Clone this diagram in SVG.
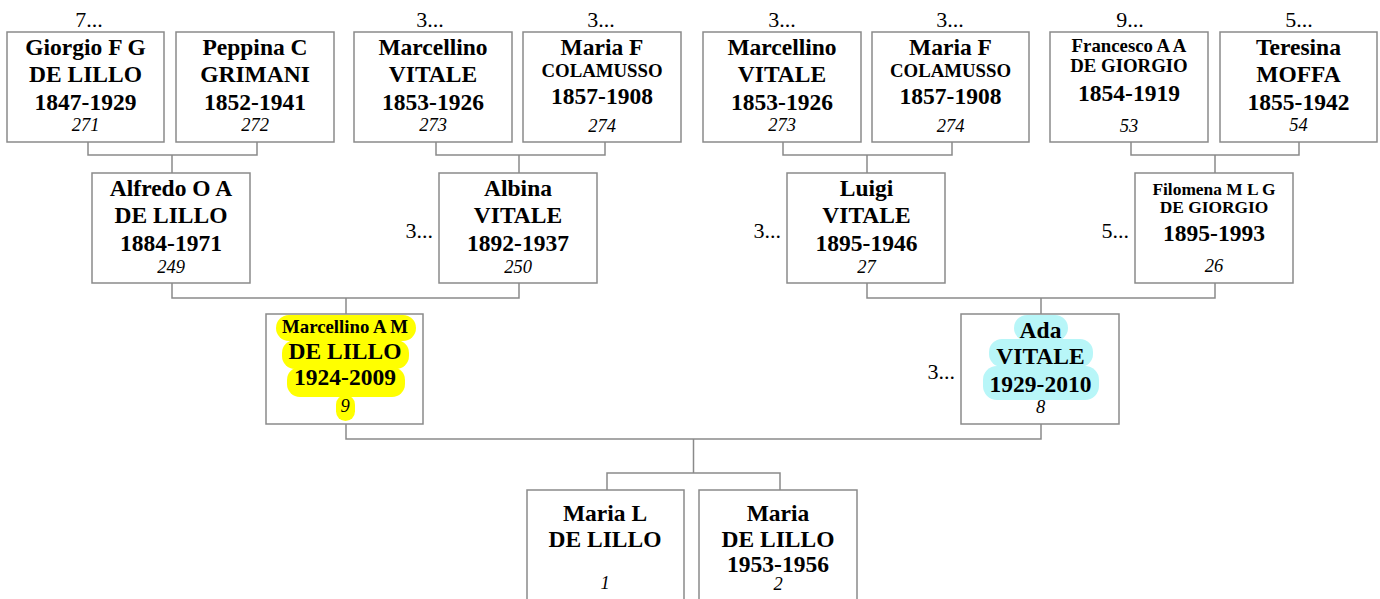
<svg xmlns="http://www.w3.org/2000/svg" width="1380" height="599" viewBox="0 0 1380 599">
<style>
.box{fill:#fff;stroke:#8a8a8a;stroke-width:1.5}
.c{fill:none;stroke:#8a8a8a;stroke-width:1.5}
text{font-family:"Liberation Serif","Times New Roman",serif;fill:#000;text-anchor:middle}
.b{font-weight:bold;font-size:23.5px}
.s{font-weight:bold;font-size:18.8px}
.t{font-weight:bold;font-size:17.4px}
.n{font-style:italic;font-size:18.5px}
.m{font-size:22px}
.e{font-size:22px;text-anchor:end}
.hy{fill:#ffff00}
.hc{fill:#b8f6f8}
</style>
<rect width="1380" height="599" fill="#fff"/>
<g id="connectors">
<path class="c" d="M88 142V155H257V142M172 155V173"/>
<path class="c" d="M436 142V155H605V142M519 155V173"/>
<path class="c" d="M783 142V155H952V142M867 155V173"/>
<path class="c" d="M1131 142V155H1299V142M1215 155V173"/>
<path class="c" d="M172 283V298H519V283M346 298V314"/>
<path class="c" d="M867 283V298H1215V283M1041 298V314"/>
<path class="c" d="M346 424V439H1041V424M693.5 439V473"/>
<path class="c" d="M607 490V473H780V490"/>
</g>
<g id="n271">
<text class="m" x="89" y="27">7...</text>
<rect class="box" x="7" y="32" width="157" height="110"/>
<text class="b" x="85.5" y="55">Giorgio F G</text>
<text class="b" x="85.5" y="82">DE LILLO</text>
<text class="b" x="85.5" y="109.5">1847-1929</text>
<text class="n" x="85.5" y="131">271</text>
</g>
<g id="n272">
<rect class="box" x="176" y="32" width="158" height="110"/>
<text class="b" x="255" y="55">Peppina C</text>
<text class="b" x="255" y="82">GRIMANI</text>
<text class="b" x="255" y="109.5">1852-1941</text>
<text class="n" x="255" y="131">272</text>
</g>
<g id="n273a">
<text class="m" x="430" y="27">3...</text>
<rect class="box" x="354" y="32" width="158" height="110"/>
<text class="b" x="433" y="55">Marcellino</text>
<text class="b" x="433" y="82">VITALE</text>
<text class="b" x="433" y="109.5">1853-1926</text>
<text class="n" x="433" y="131">273</text>
</g>
<g id="n274a">
<text class="m" x="601" y="27">3...</text>
<rect class="box" x="523" y="32" width="158" height="110"/>
<text class="b" x="602" y="55">Maria F</text>
<text class="s" x="602" y="77.3">COLAMUSSO</text>
<text class="b" x="602" y="104">1857-1908</text>
<text class="n" x="602" y="131.5">274</text>
</g>
<g id="n273b">
<text class="m" x="782" y="27">3...</text>
<rect class="box" x="703" y="32" width="158" height="110"/>
<text class="b" x="782" y="55">Marcellino</text>
<text class="b" x="782" y="82">VITALE</text>
<text class="b" x="782" y="109.5">1853-1926</text>
<text class="n" x="782" y="131">273</text>
</g>
<g id="n274b">
<text class="m" x="950" y="27">3...</text>
<rect class="box" x="872" y="32" width="157" height="110"/>
<text class="b" x="950.5" y="55">Maria F</text>
<text class="s" x="950.5" y="77.3">COLAMUSSO</text>
<text class="b" x="950.5" y="104">1857-1908</text>
<text class="n" x="950.5" y="131.5">274</text>
</g>
<g id="n53">
<text class="m" x="1130" y="27">9...</text>
<rect class="box" x="1050" y="32" width="158" height="110"/>
<text class="s" x="1129" y="52.3">Francesco A A</text>
<text class="s" x="1129" y="72.3">DE GIORGIO</text>
<text class="b" x="1129" y="100.7">1854-1919</text>
<text class="n" x="1129" y="131.5">53</text>
</g>
<g id="n54">
<text class="m" x="1299" y="27">5...</text>
<rect class="box" x="1220" y="32" width="157" height="110"/>
<text class="b" x="1298.5" y="55">Teresina</text>
<text class="b" x="1298.5" y="82.3">MOFFA</text>
<text class="b" x="1298.5" y="110">1855-1942</text>
<text class="n" x="1298.5" y="131">54</text>
</g>
<g id="n249">
<rect class="box" x="92" y="173" width="158" height="110"/>
<text class="b" x="171" y="196">Alfredo O A</text>
<text class="b" x="171" y="223.3">DE LILLO</text>
<text class="b" x="171" y="251">1884-1971</text>
<text class="n" x="171" y="273.3">249</text>
</g>
<g id="n250">
<text class="e" x="433" y="237.5">3...</text>
<rect class="box" x="439" y="173" width="158" height="110"/>
<text class="b" x="518" y="196">Albina</text>
<text class="b" x="518" y="223.3">VITALE</text>
<text class="b" x="518" y="251">1892-1937</text>
<text class="n" x="518" y="273.3">250</text>
</g>
<g id="n27">
<text class="e" x="781" y="237.5">3...</text>
<rect class="box" x="787" y="173" width="158" height="110"/>
<text class="b" x="866.5" y="196">Luigi</text>
<text class="b" x="866.5" y="223.3">VITALE</text>
<text class="b" x="866.5" y="251">1895-1946</text>
<text class="n" x="866.5" y="273.3">27</text>
</g>
<g id="n26">
<text class="e" x="1129" y="237.5">5...</text>
<rect class="box" x="1135" y="173" width="158" height="110"/>
<text class="t" x="1214" y="195">Filomena M L G</text>
<text class="t" x="1214" y="213">DE GIORGIO</text>
<text class="b" x="1214" y="240.7">1895-1993</text>
<text class="n" x="1214" y="271.7">26</text>
</g>
<g id="n9">
<rect class="box" x="266" y="314" width="157" height="110"/>
<rect class="hy" x="276" y="315" width="140" height="26" rx="13"/>
<rect class="hy" x="282" y="340" width="127" height="29" rx="13"/>
<rect class="hy" x="287" y="367" width="118" height="30" rx="13"/>
<rect class="hy" x="336" y="395" width="19" height="26" rx="9.5"/>
<text class="s" x="345" y="333.3">Marcellino A M</text>
<text class="b" x="345" y="359.3">DE LILLO</text>
<text class="b" x="345" y="385">1924-2009</text>
<text class="n" x="345" y="411.7">9</text>
</g>
<g id="n8">
<text class="e" x="955" y="379">3...</text>
<rect class="box" x="961" y="314" width="158" height="110"/>
<rect class="hc" x="1014" y="315" width="54" height="26" rx="13"/>
<rect class="hc" x="989" y="339" width="104" height="28" rx="13"/>
<rect class="hc" x="983" y="366" width="116" height="34" rx="14"/>
<text class="b" x="1040.5" y="337.7">Ada</text>
<text class="b" x="1040.5" y="364.3">VITALE</text>
<text class="b" x="1040.5" y="391.7">1929-2010</text>
<text class="n" x="1040.5" y="413.3">8</text>
</g>
<g id="n1">
<rect class="box" x="527" y="490" width="157" height="115"/>
<text class="b" x="605" y="520.7">Maria L</text>
<text class="b" x="605" y="546.7">DE LILLO</text>
<text class="n" x="605" y="589.3">1</text>
</g>
<g id="n2">
<rect class="box" x="699" y="490" width="158" height="115"/>
<text class="b" x="778" y="520.7">Maria</text>
<text class="b" x="778" y="546.7">DE LILLO</text>
<text class="b" x="778" y="571.5">1953-1956</text>
<text class="n" x="778" y="590">2</text>
</g>
</svg>
